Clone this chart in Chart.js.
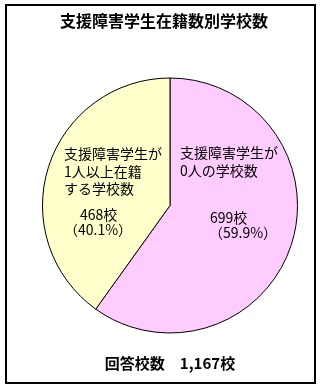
<!DOCTYPE html>
<html>
<head>
<meta charset="utf-8">
<script src="https://cdn.jsdelivr.net/npm/chart.js@4"></script>
<style>
  html, body { margin: 0; padding: 0; background: #ffffff; }
  #wrap { position: relative; width: 321px; height: 389px; }
</style>
</head>
<body>
<div id="wrap"><canvas id="c" width="321" height="389"></canvas></div>
<script>
// 支援障害学生の在籍状況別の学校数
const chartTitle = '支援障害学生在籍数別学校数';
const categories = [
  ['支援障害学生が', '0人の学校数'],
  ['支援障害学生が', '1人以上在籍', 'する学校数']
];
const schoolCounts = [699, 468];
const sliceColors = ['#FFCCFF', '#FFFFCC'];

const FONT = '"Noto Sans CJK JP", "Noto Sans", sans-serif';
const total = schoolCounts.reduce((a, b) => a + b, 0);
const pct = v => (v / total * 100).toFixed(1);

// label placement inside each slice (name block, then count and share)
const labelLayout = [
  { x: 180, nameY: 153, countX: 210, countY: 218, pctX: 209, pctY: 233 },
  { x: 64,  nameY: 154, countX: 80,  countY: 215, pctX: 64,  pctY: 230 }
];

const textPlugin = {
  id: 'texts',
  afterDraw(chart) {
    const ctx = chart.ctx;
    ctx.save();
    // frame
    ctx.strokeStyle = '#000';
    ctx.lineWidth = 2;
    ctx.strokeRect(6, 5, 309, 378);

    ctx.fillStyle = '#000';
    ctx.textBaseline = 'middle';
    // title
    ctx.font = 'bold 16px ' + FONT;
    ctx.textAlign = 'center';
    ctx.fillText(chartTitle, 164, 21);

    // total
    ctx.font = 'bold 15px ' + FONT;
    ctx.fillText('回答校数\u3000' + total.toLocaleString('en-US') + '校', 170, 363);

    // slice labels
    ctx.textAlign = 'left';
    ctx.font = '14px ' + FONT;
    categories.forEach((lines, i) => {
      const L = labelLayout[i];
      lines.forEach((t, k) => ctx.fillText(t, L.x, L.nameY + k * 17.5));
      ctx.fillText(schoolCounts[i] + '校', L.countX, L.countY);
      ctx.fillText('（' + pct(schoolCounts[i]) + '%）', L.pctX, L.pctY);
    });
    ctx.restore();
  }
};

new Chart(document.getElementById('c'), {
  type: 'pie',
  data: {
    labels: categories.map(l => l.join('')),
    datasets: [{
      data: schoolCounts,
      backgroundColor: sliceColors,
      borderColor: '#000',
      borderWidth: 1
    }]
  },
  options: {
    responsive: false,
    animation: false,
    layout: { padding: { left: 42, right: 23, top: 77, bottom: 55 } },
    plugins: {
      legend: { display: false },
      title: { display: false },
      tooltip: { enabled: false }
    }
  },
  plugins: [textPlugin]
});
</script>
</body>
</html>
